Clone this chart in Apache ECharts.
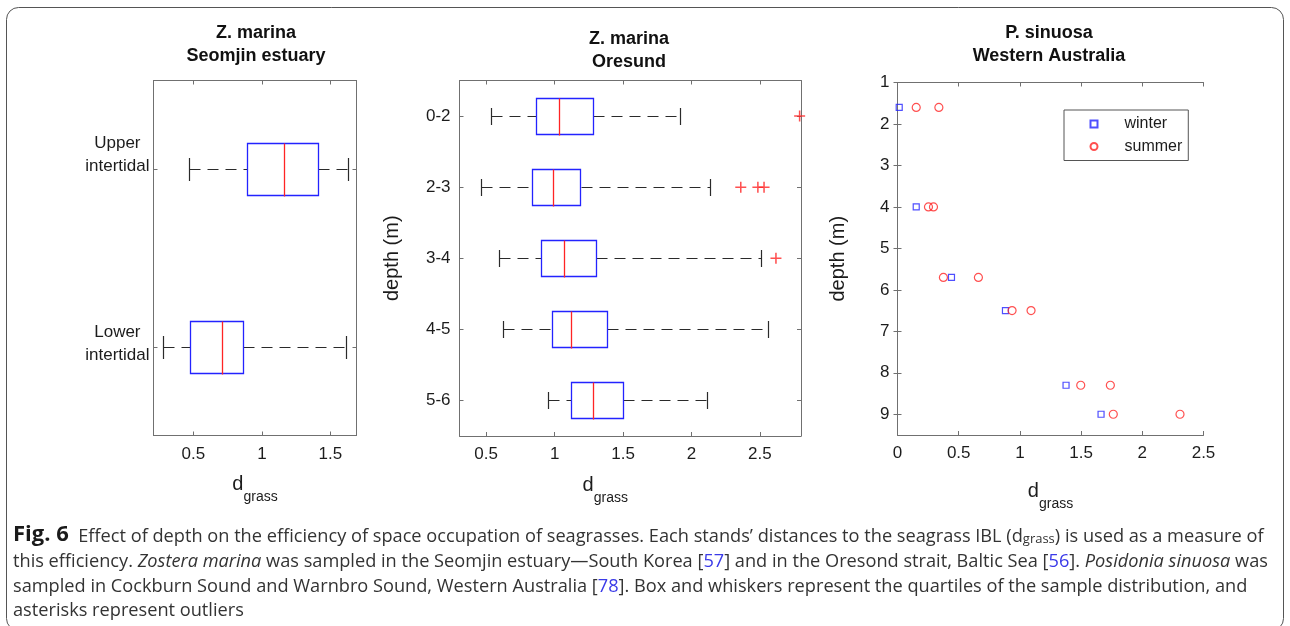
<!DOCTYPE html>
<html><head><meta charset="utf-8">
<script src="https://cdn.jsdelivr.net/npm/echarts@6/dist/echarts.min.js"></script>
<style>html,body{margin:0;padding:0;background:#fff;} #c{width:1290px;height:626px;}</style>
</head><body><div id="c"></div>
<script>
// ---------- data ----------
const p1Categories = ['Upper intertidal', 'Lower intertidal'];
const p1Low    = [0.468, 0.281];
const p1Q1     = [0.893, 0.475];
const p1Median = [1.163, 0.706];
const p1Q3     = [1.408, 0.859];
const p1High   = [1.626, 1.610];
const p1Ticks  = [0.5, 1, 1.5];

const p2Categories = ['0-2', '2-3', '3-4', '4-5', '5-6'];
const p2Low    = [0.537, 0.464, 0.595, 0.622, 0.951];
const p2Q1     = [0.866, 0.837, 0.903, 0.978, 1.119];
const p2Median = [1.029, 0.988, 1.068, 1.122, 1.280];
const p2Q3     = [1.280, 1.190, 1.304, 1.382, 1.499];
const p2High   = [1.919, 2.134, 2.505, 2.561, 2.110];
const p2OutlierCategory = ['0-2', '2-3', '2-3', '2-3', '3-4'];
const p2OutlierValue    = [2.79, 2.36, 2.485, 2.53, 2.617];
const p2Ticks  = [0.5, 1, 1.5, 2, 2.5];

const p3WinterDepth = [1.6, 4, 5.7, 6.5, 8.3, 9];
const p3WinterD     = [0.014, 0.153, 0.441, 0.882, 1.377, 1.663];
const p3SummerDepth = [1.6, 1.6, 4, 4, 5.7, 5.7, 6.5, 6.5, 8.3, 8.3, 9, 9];
const p3SummerD     = [0.153, 0.338, 0.253, 0.294, 0.375, 0.661, 0.936, 1.091, 1.497, 1.739, 1.763, 2.308];
const p3XTicks = [0, 0.5, 1, 1.5, 2, 2.5];
const p3YTicks = [1, 2, 3, 4, 5, 6, 7, 8, 9];

// ---------- styles ----------
const F = '"Liberation Sans", Arial, Helvetica, sans-serif';
const CF = '"Open Sans", "Noto Sans", sans-serif';
const AX = '#707070';
const TXT = '#1c1c1c';
const BLUE = '#2323ff';
const RED = '#ff2424';
const CAPFS = 18.2;

const chart = echarts.init(document.getElementById('c'), null, {renderer: 'canvas'});

const snap = v => Math.round(v) + 0.5;
function boxRender(boxFrac, capFrac) {
  return function (params, api) {
    const cat = api.value(0);
    const pLo = api.coord([api.value(1), cat]);
    const pQ1 = api.coord([api.value(2), cat]);
    const pMd = api.coord([api.value(3), cat]);
    const pQ3 = api.coord([api.value(4), cat]);
    const pHi = api.coord([api.value(5), cat]);
    const band = api.size([0, 1])[1];
    const bh = band * boxFrac / 2, ch = band * capFrac / 2;
    const y = snap(pLo[1]);
    const dash = {stroke: '#2a2a2a', lineWidth: 1.2, lineDash: [11, 7]};
    const solid = {stroke: '#2a2a2a', lineWidth: 1.2};
    return {type: 'group', children: [
      {type: 'line', shape: {x1: snap(pLo[0]), y1: y, x2: snap(pQ1[0]), y2: y}, style: dash},
      {type: 'line', shape: {x1: snap(pQ3[0]), y1: y, x2: snap(pHi[0]), y2: y}, style: dash},
      {type: 'line', shape: {x1: snap(pLo[0]), y1: Math.round(y - ch), x2: snap(pLo[0]), y2: Math.round(y + ch)}, style: solid},
      {type: 'line', shape: {x1: snap(pHi[0]), y1: Math.round(y - ch), x2: snap(pHi[0]), y2: Math.round(y + ch)}, style: solid},
      {type: 'rect', shape: {x: snap(pQ1[0]), y: snap(y - bh), width: Math.round(pQ3[0] - pQ1[0]), height: Math.round(2 * bh)},
        style: {fill: '#fff', stroke: BLUE, lineWidth: 1.3}},
      {type: 'line', shape: {x1: snap(pMd[0]), y1: snap(y - bh), x2: snap(pMd[0]), y2: snap(y + bh)}, style: {stroke: RED, lineWidth: 1.3}}
    ]};
  };
}

const nameRich = {
  d: {fontSize: 20, lineHeight: 20, padding: [0, 0, 10, 0], verticalAlign: 'bottom', fontFamily: F, color: TXT},
  s: {fontSize: 14, lineHeight: 14, verticalAlign: 'bottom', fontFamily: F, color: TXT}
};
const lineCommon = {show: true, lineStyle: {color: AX, width: 1}};
function valAxis(grid, min, max, ticks, pos, labels, extra) {
  return Object.assign({
    gridIndex: grid, type: 'value', min: min, max: max, position: pos,
    axisLine: lineCommon,
    axisTick: {show: true, inside: true, length: 4, customValues: ticks, lineStyle: {color: AX}},
    axisLabel: {show: labels, customValues: ticks, margin: 10, fontSize: 17, color: TXT, fontFamily: F},
    splitLine: {show: false}
  }, extra || {});
}
function catAxis(grid, cats, pos, labels, extra) {
  return Object.assign({
    gridIndex: grid, type: 'category', data: cats, inverse: true, position: pos,
    axisLine: lineCommon,
    axisTick: {show: true, inside: true, length: 4, alignWithLabel: true, lineStyle: {color: AX}},
    axisLabel: {show: labels, fontSize: 17, color: TXT, fontFamily: F, margin: 9},
    splitLine: {show: false}
  }, extra || {});
}

const plusPath = 'path://M4.3,0h1.4v4.3h4.3v1.4h-4.3v4.3h-1.4v-4.3h-4.3v-1.4h4.3z';

const capRich = {
  t: {fontSize: CAPFS, lineHeight: 22, verticalAlign: 'bottom', fontFamily: CF, fill: '#333'},
  b: {fontSize: 22, lineHeight: 22, verticalAlign: 'bottom', fontFamily: CF, fontWeight: 'bold', fill: '#1a1a1a'},
  i: {fontSize: CAPFS, lineHeight: 22, verticalAlign: 'bottom', fontFamily: CF, fontStyle: 'italic', fill: '#333'},
  r: {fontSize: CAPFS, lineHeight: 22, verticalAlign: 'bottom', fontFamily: CF, fill: '#3a3ae8'},
  s: {fontSize: 13, lineHeight: 9, verticalAlign: 'bottom', fontFamily: CF, fill: '#333'}
};
const captionLines = [
  '{b|Fig. 6}{t|  Effect of depth on the efficiency of space occupation of seagrasses. Each stands’ distances to the seagrass IBL (d}{s|grass}{t|) is used as a measure of}',
  '{t|this efficiency. }{i|Zostera marina}{t| was sampled in the Seomjin estuary—South Korea [}{r|57}{t|] and in the Oresond strait, Baltic Sea [}{r|56}{t|]. }{i|Posidonia sinuosa}{t| was}',
  '{t|sampled in Cockburn Sound and Warnbro Sound, Western Australia [}{r|78}{t|]. Box and whiskers represent the quartiles of the sample distribution, and}',
  '{t|asterisks represent outliers}'
];
const captionY = [535, 560, 585, 609];

const titleStyle = {fontSize: 18, fontWeight: 'bold', lineHeight: 23, color: '#111', fontFamily: F};

const option = {
  backgroundColor: '#fff',
  animation: false,
  title: [
    {text: 'Z. marina\nSeomjin estuary', left: 251, top: 17, textAlign: 'center', textStyle: titleStyle},
    {text: 'Z. marina\nOresund', left: 624, top: 23, textAlign: 'center', textStyle: titleStyle},
    {text: 'P. sinuosa\nWestern Australia', left: 1044, top: 17, textAlign: 'center', textStyle: titleStyle}
  ],
  grid: [
    {left: 153.5, top: 80.5, width: 203, height: 355},
    {left: 459.5, top: 80.5, width: 341.5, height: 355.5},
    {left: 897.5, top: 82.5, width: 306, height: 352.5}
  ],
  legend: {
    left: 1064, top: 110, orient: 'vertical', padding: [6, 6, 6, 25.5], itemGap: 6.5,
    itemWidth: 7, itemHeight: 7, borderColor: '#555', borderWidth: 1, backgroundColor: '#fff',
    textStyle: {fontSize: 16, color: TXT, fontFamily: F, padding: [0, 0, 0, 22]}, data: ['winter', 'summer']
  },
  xAxis: [
    valAxis(0, 0.21, 1.69, p1Ticks, 'bottom', true, {name: '{d|d}{s|grass}', nameLocation: 'middle', nameGap: 49, nameTextStyle: {rich: nameRich}}),
    valAxis(0, 0.21, 1.69, p1Ticks, 'top', false),
    valAxis(1, 0.305, 2.8, p2Ticks, 'bottom', true, {name: '{d|d}{s|grass}', nameLocation: 'middle', nameGap: 49, nameTextStyle: {rich: nameRich, padding: [0, 50, 0, 0]}}),
    valAxis(1, 0.305, 2.8, p2Ticks, 'top', false),
    valAxis(2, 0, 2.5, p3XTicks, 'bottom', true, {name: '{d|d}{s|grass}', nameLocation: 'middle', nameGap: 56, nameTextStyle: {rich: nameRich}}),
    valAxis(2, 0, 2.5, p3XTicks, 'top', false)
  ],
  yAxis: [
    catAxis(0, p1Categories, 'left', true, {axisLabel: {
      show: true, margin: 4,
      formatter: function (v, i) {
        const parts = v.split(' ');
        return '{a|' + parts[0] + '}\n{a|' + parts[1] + '}\n{' + (i === 0 ? 'u' : 'l') + '| }';
      },
      rich: {
        a: {align: 'center', fontSize: 17, lineHeight: 23, color: TXT, fontFamily: F},
        u: {fontSize: 2, lineHeight: 29},
        l: {fontSize: 2, lineHeight: 6}
      }
    }}),
    catAxis(0, p1Categories, 'right', false),
    catAxis(1, p2Categories, 'left', true, {name: 'depth (m)', nameLocation: 'middle', nameGap: 57, nameRotate: 90,
      nameTextStyle: {fontSize: 20, color: TXT, fontFamily: F}}),
    catAxis(1, p2Categories, 'right', false),
    valAxis(2, 1, 9.5, p3YTicks, 'left', true, {inverse: true, axisLabel: {show: true, customValues: p3YTicks, margin: 8, fontSize: 17, color: TXT, fontFamily: F},
      name: 'depth (m)', nameLocation: 'middle', nameGap: 49, nameRotate: 90, nameTextStyle: {fontSize: 20, color: TXT, fontFamily: F}}),
    valAxis(2, 1, 9.5, p3YTicks, 'right', false, {inverse: true})
  ],
  series: [
    {type: 'custom', xAxisIndex: 0, yAxisIndex: 0, clip: false,
      renderItem: boxRender(0.293, 0.124), encode: {y: 0, x: [1, 2, 3, 4, 5]},
      data: p1Categories.map((c, i) => [c, p1Low[i], p1Q1[i], p1Median[i], p1Q3[i], p1High[i]])},
    {type: 'custom', xAxisIndex: 2, yAxisIndex: 2, clip: false,
      renderItem: boxRender(0.507, 0.25), encode: {y: 0, x: [1, 2, 3, 4, 5]},
      data: p2Categories.map((c, i) => [c, p2Low[i], p2Q1[i], p2Median[i], p2Q3[i], p2High[i]])},
    {type: 'scatter', name: 'outliers', xAxisIndex: 2, yAxisIndex: 2, symbol: plusPath, symbolSize: 11,
      itemStyle: {color: RED}, clip: false,
      data: p2OutlierValue.map((v, i) => [v, p2OutlierCategory[i]])},
    {type: 'scatter', name: 'winter', xAxisIndex: 4, yAxisIndex: 4, symbol: 'rect', symbolSize: 6, clip: false,
      itemStyle: {color: 'rgba(0,0,0,0)', borderColor: BLUE, borderWidth: 1.2},
      data: p3WinterD.map((v, i) => [v, p3WinterDepth[i]])},
    {type: 'scatter', name: 'summer', xAxisIndex: 4, yAxisIndex: 4, symbol: 'circle', symbolSize: 8, clip: false,
      itemStyle: {color: 'rgba(0,0,0,0)', borderColor: RED, borderWidth: 1.2},
      data: p3SummerD.map((v, i) => [v, p3SummerDepth[i]])}
  ],
  graphic: [
    {type: 'rect', z: -10, silent: true, shape: {x: 6.5, y: 7.5, width: 1277, height: 623, r: 12},
      style: {fill: 'none', stroke: '#555', lineWidth: 1}}
  ].concat(captionLines.map((t, i) => ({
    type: 'text', x: 13, y: captionY[i], silent: true,
    style: {text: t, rich: capRich, verticalAlign: 'middle', align: 'left', font: CAPFS + 'px ' + CF, fill: '#333'}
  })))
};
chart.setOption(option);
</script>
</body></html>
